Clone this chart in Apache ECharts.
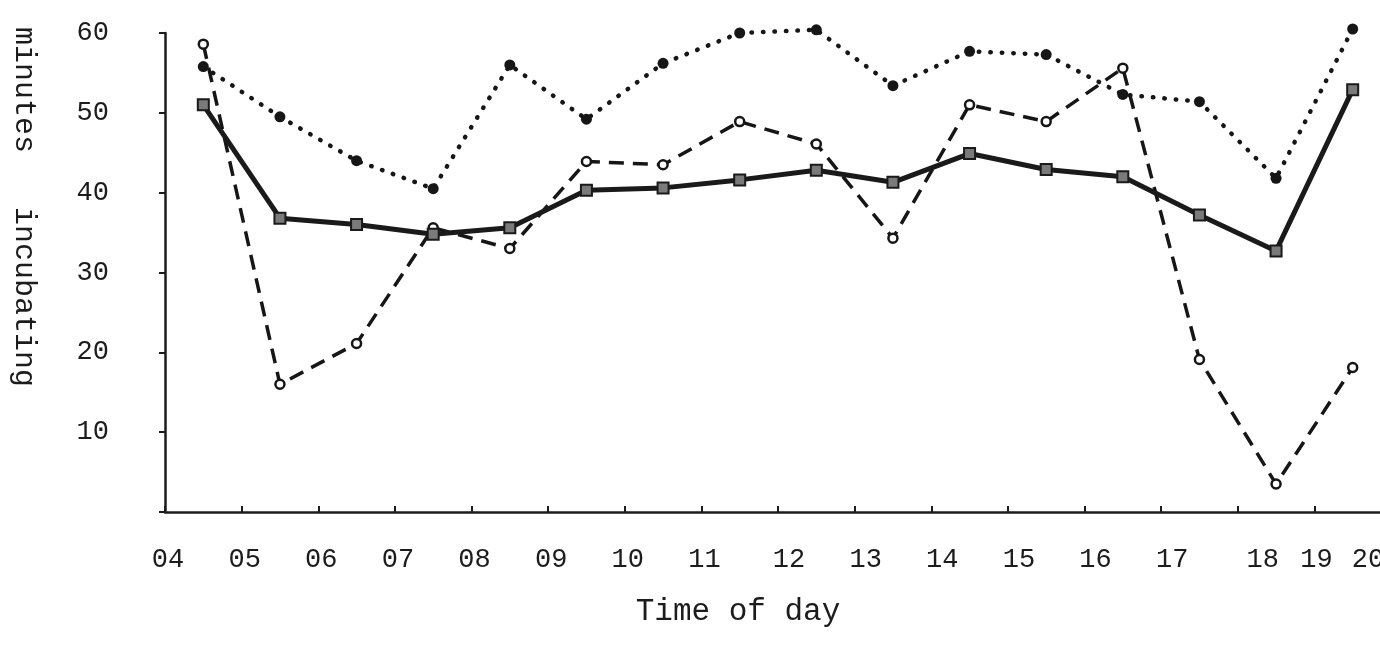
<!DOCTYPE html>
<html>
<head>
<meta charset="utf-8">
<script src="https://cdn.jsdelivr.net/npm/echarts@6/dist/echarts.min.js"></script>
<style>
html,body{margin:0;padding:0;background:#fff;}
#chart{width:1380px;height:645px;}
</style>
</head>
<body>
<div id="chart"></div>
<script>
// Half-hour observation times (hour of day)
const hours = [4.5, 5.5, 6.5, 7.5, 8.5, 9.5, 10.5, 11.5, 12.5, 13.5, 14.5, 15.5, 16.5, 17.5, 18.5, 19.5];
// Dotted series (filled dots)
const dottedValues = [55.8, 49.5, 44.0, 40.5, 56.0, 49.2, 56.2, 60.0, 60.4, 53.4, 57.7, 57.3, 52.3, 51.4, 41.8, 60.5];
// Dashed series (open circles)
const dashedValues = [58.6, 16.0, 21.1, 35.6, 33.0, 43.9, 43.5, 48.9, 46.1, 34.3, 51.0, 48.9, 55.6, 19.1, 3.5, 18.1];
// Solid series (squares)
const solidValues = [51.0, 36.8, 36.0, 34.8, 35.6, 40.3, 40.6, 41.6, 42.8, 41.3, 44.9, 42.9, 42.0, 37.2, 32.7, 52.9];
// Tick labels
const xTickLabels = ['04','05','06','07','08','09','10','11','12','13','14','15','16','17','18','19','20'];
const yTickLabels = ['', '10', '20', '30', '40', '50', '60'];

const FONT = '"Liberation Mono", "DejaVu Sans Mono", monospace';
const INK = '#1c1c1c';

function pairs(vals) { return hours.map((h, i) => [h, vals[i]]); }

const chart = echarts.init(document.getElementById('chart'), null, {renderer: 'canvas'});

chart.setOption({
  animation: false,
  backgroundColor: '#ffffff',
  grid: {left: 165, right: -11, top: 33, bottom: 133, containLabel: false, outerBoundsMode: 'none'},
  xAxis: {
    type: 'value', min: 4, max: 20, interval: 1,
    name: 'Time of day', nameLocation: 'middle', nameGap: 84,
    nameTextStyle: {fontFamily: FONT, fontSize: 31, color: INK, padding: [0, 80, 0, 0]},
    axisLine: {lineStyle: {color: INK, width: 2.5}},
    axisTick: {inside: true, length: 6, lineStyle: {color: INK, width: 2}},
    splitLine: {show: false},
    axisLabel: {
      showMinLabel: true, showMaxLabel: true, hideOverlap: false,
      margin: 34,
      fontFamily: FONT, fontSize: 27, color: INK,
      formatter: function (v) {
        const idx = Math.round(v - 4);
        const t = xTickLabels[idx];
        if (t === undefined) return '';
        if (t === '18') return '{r|' + t + '}';
        if (t === '20') return '{l|' + t + '}';
        if (t === '19') return '{z|' + t + '}';
        if (idx >= 8) return '{m|' + t + '}';
        return '{s|' + t + '}';
      },
      rich: {
        s: {fontFamily: FONT, fontSize: 27, color: INK, padding: [0, 0, 0, 6]},
        m: {fontFamily: FONT, fontSize: 27, color: INK, padding: [0, 0, 0, 22]},
        r: {fontFamily: FONT, fontSize: 27, color: INK, padding: [0, 0, 0, 50]},
        z: {fontFamily: FONT, fontSize: 27, color: INK, padding: [0, 0, 0, 4]},
        l: {fontFamily: FONT, fontSize: 27, color: INK, padding: [0, 46, 0, 0]}
      }
    }
  },
  yAxis: {
    type: 'value', min: 0, max: 60, interval: 10,
    axisLine: {show: true, lineStyle: {color: INK, width: 2.5}},
    axisTick: {show: true, inside: false, length: 6, lineStyle: {color: INK, width: 2}},
    splitLine: {show: false},
    axisLabel: {
      margin: 56, fontFamily: FONT, fontSize: 27, color: INK,
      formatter: function (v) { return yTickLabels[Math.round(v / 10)] || ''; }
    }
  },
  graphic: [{
    type: 'text',
    x: 24, y: 207,
    rotation: -Math.PI / 2,
    style: {
      text: 'minutes   incubating',
      fontFamily: FONT, fontSize: 30, fill: INK,
      textAlign: 'center', textVerticalAlign: 'middle'
    }
  }],
  series: [
    {
      name: 'dotted', type: 'line', data: pairs(dottedValues), clip: false,
      symbol: 'circle', symbolSize: 11,
      itemStyle: {color: '#161616', borderColor: '#161616', borderWidth: 0},
      lineStyle: {color: '#161616', width: 4.5, type: [0.5, 11], cap: 'round'},
      z: 3
    },
    {
      name: 'dashed', type: 'line', data: pairs(dashedValues), clip: false,
      symbol: 'circle', symbolSize: 9,
      itemStyle: {color: '#ffffff', borderColor: '#161616', borderWidth: 2.5},
      lineStyle: {color: '#161616', width: 3.5, type: [15, 9]},
      z: 4
    },
    {
      name: 'solid', type: 'line', data: pairs(solidValues), clip: false,
      symbol: 'rect', symbolSize: 11,
      itemStyle: {color: '#7a7a7a', borderColor: '#1a1a1a', borderWidth: 2},
      lineStyle: {color: '#1a1a1a', width: 5},
      z: 5
    }
  ]
});
</script>
</body>
</html>
